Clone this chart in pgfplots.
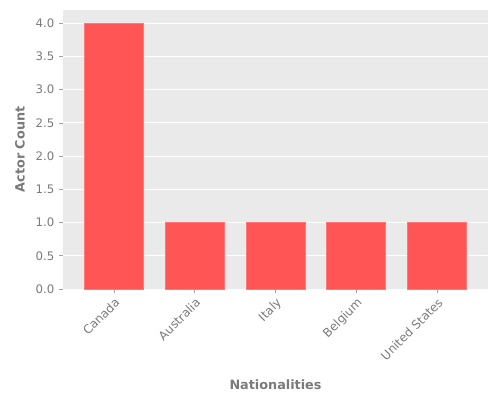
\documentclass[border=0pt]{standalone}
\usepackage{pgfplots}
\pgfplotsset{compat=1.18}
\usepackage{fontspec}
\setmainfont{DejaVu Sans}
\definecolor{bg}{HTML}{EAEAEA}
\definecolor{barc}{HTML}{FF5555}
\definecolor{txt}{HTML}{7A7A7A}
\begin{document}
\begin{tikzpicture}[x=0.75pt,y=0.75pt]
\useasboundingbox (-63,-111) rectangle (437,289);
\begin{axis}[
  at={(0,0)}, anchor=south west,
  scale only axis,
  width=425*0.75pt, height=279*0.75pt,
  xmin=-0.63, xmax=4.63, ymin=0, ymax=4.2,
  axis background/.style={fill=bg},
  axis line style={draw=none},
  ytick={0,0.5,1,1.5,2,2.5,3,3.5,4},
  y tick label style={/pgf/number format/fixed, /pgf/number format/fixed zerofill, /pgf/number format/precision=1},
  /pgf/number format/assume math mode=true,
  xtick={0,1,2,3,4},
  xticklabels={Canada,Australia,Italy,Belgium,United States},
  xticklabel style={rotate=45, anchor=north east, inner sep=2pt, font=\fontsize{9}{11}\selectfont, text=txt},
  yticklabel style={font=\fontsize{8.8}{11}\selectfont, text=txt},
  tick style={draw=txt!70, line width=0.5pt},
  tick align=outside, major tick length=3pt,
  xtick pos=bottom, ytick pos=left,
  ymajorgrids, grid style={white, line width=0.7pt},
  ylabel={\textbf{Actor Count}},
  xlabel={\textbf{Nationalities}},
  label style={text=txt, font=\fontsize{9.6}{11}\selectfont},
  ylabel style={at={(axis description cs:-0.101,0.5)}, anchor=center},
  xlabel style={at={(axis description cs:0.5,-0.344)}, anchor=center},
]
\addplot[ybar, bar width=0.73, fill=barc, draw=barc!80!white, line width=0.5pt] coordinates {(0,4) (1,1) (2,1) (3,1) (4,1)};
\end{axis}
\end{tikzpicture}
\end{document}
